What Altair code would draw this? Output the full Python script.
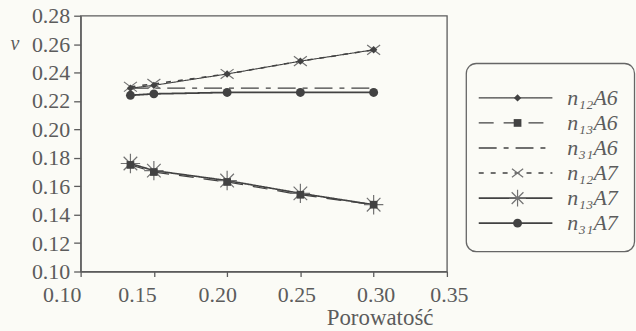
import altair as alt
import pandas as pd

# ---- data ----
porosity = [0.134, 0.15, 0.20, 0.25, 0.30]
series = ["n12A6", "n13A6", "n31A6", "n12A7", "n13A7", "n31A7"]
labels = ["n₁₂A6", "n₁₃A6", "n₃₁A6", "n₁₂A7", "n₁₃A7", "n₃₁A7"]
n12A6 = [0.229, 0.231, 0.239, 0.248, 0.256]
n13A6 = [0.175, 0.170, 0.163, 0.154, 0.147]
n31A6 = [0.229, 0.229, 0.229, 0.229, 0.229]
n12A7 = [0.230, 0.232, 0.239, 0.248, 0.256]
n13A7 = [0.176, 0.171, 0.164, 0.155, 0.147]
n31A7 = [0.224, 0.225, 0.226, 0.226, 0.226]
values = [n12A6, n13A6, n31A6, n12A7, n13A7, n31A7]

x_ticks = [0.10, 0.15, 0.20, 0.25, 0.30, 0.35]
y_ticks = [0.10, 0.12, 0.14, 0.16, 0.18, 0.20, 0.22, 0.24, 0.26, 0.28]

rows = []
for s, lab, vals in zip(series, labels, values):
    for x, y in zip(porosity, vals):
        rows.append({"series": s, "label": lab, "x": x, "y": y})
df = pd.DataFrame(rows)
leg_df = pd.DataFrame({"series": series, "label": labels})

# ---- styles ----
INK = "#424242"
AX = "#5c5c5c"
MARK2 = "#727272"
FONT = "Liberation Serif"
dashes = [[1, 0], [15, 10], [18, 7, 5, 7], [5, 7], [1, 0], [1, 0]]
widths = [1.1, 1.8, 2.0, 1.6, 2.4, 2.4]
asterisk = "M-1,0L1,0M0,-1L0,1M-0.7,-0.7L0.7,0.7M-0.7,0.7L0.7,-0.7"
xmark = "M-1,-0.75L1,0.75M-1,0.75L1,-0.75"
# series -> (shape, size, filled, colour); n31A6 has no marker
marker_style = {
    "n13A7": (asterisk, 380, False, MARK2),
    "n12A7": (xmark, 170, False, MARK2),
    "n12A6": ("diamond", 55, True, INK),
    "n13A6": ("square", 60, True, INK),
    "n31A7": ("circle", 80, True, INK),
}

dash_scale = alt.Scale(domain=series, range=dashes)
width_scale = alt.Scale(domain=series, range=widths)

common_axis = dict(labelFont=FONT, labelFontSize=22, labelColor=AX, labelOverlap=False,
                   labelFlush=False, grid=False, domainColor=AX, tickColor=AX,
                   domainWidth=1.3, tickWidth=1.3)

x_label_offset = {
    "condition": [
        {"test": "datum.value < 0.125", "value": -19},
        {"test": "datum.value < 0.175", "value": -17},
        {"test": "datum.value < 0.225", "value": -10},
        {"test": "datum.value < 0.275", "value": -4},
    ],
    "value": 2,
}

xenc = alt.X("x:Q", scale=alt.Scale(domain=[0.10, 0.35], nice=False),
             axis=alt.Axis(values=x_ticks, format=".2f", title="Porowatość",
                           titleAnchor="end", titleAlign="right", titleBaseline="alphabetic",
                           titleX=354, titleY=53,
                           titleFontWeight="normal", titleFont=FONT, titleFontSize=23,
                           titleColor=AX, tickSize=5, labelPadding=8,
                           labelOffset=x_label_offset, **common_axis))
yenc = alt.Y("y:Q", scale=alt.Scale(domain=[0.10, 0.28], nice=False),
             axis=alt.Axis(values=y_ticks, format=".2f", title="ν", titleAngle=0,
                           titleX=-71, titleY=28, titleBaseline="middle", titleAlign="left",
                           titleFont=FONT, titleFontStyle="italic", titleFontWeight="normal",
                           titleFontSize=20, titleColor=AX, tickSize=7, labelPadding=4,
                           **common_axis))

base = alt.Chart(df).encode(x=xenc, y=yenc)
layers = [base.mark_line(color=INK).encode(
    detail="series:N",
    strokeDash=alt.StrokeDash("series:N", scale=dash_scale, legend=None),
    strokeWidth=alt.StrokeWidth("series:N", scale=width_scale, legend=None),
)]
for s, (shp, sz, fil, col) in marker_style.items():
    layers.append(
        base.transform_filter(alt.datum.series == s).mark_point(
            shape=shp, size=sz, filled=fil, color=col, opacity=1,
            strokeWidth=1.2 if not fil else 0)
    )
main = alt.layer(*layers).properties(width=368, height=257)

# ---- custom legend panel ----
ly = alt.Y("series:N", sort=series, axis=None, scale=alt.Scale(type="point", range=[70, 221]))
lbase = alt.Chart(leg_df)
box = alt.Chart(pd.DataFrame({"k": [0]})).mark_rect(
    fill="transparent", stroke="#666666", strokeWidth=1.3, cornerRadius=10
).encode(x=alt.value(0.5), x2=alt.value(169.5), y=alt.value(48), y2=alt.value(237))
llayers = [box, lbase.mark_rule(color=INK).encode(
    x=alt.value(13), x2=alt.value(87), y=ly,
    strokeDash=alt.StrokeDash("series:N", scale=dash_scale, legend=None),
    strokeWidth=alt.StrokeWidth("series:N", scale=width_scale, legend=None),
)]
for s, (shp, sz, fil, col) in marker_style.items():
    llayers.append(
        lbase.transform_filter(alt.datum.series == s).mark_point(
            shape=shp, size=sz * (0.75 if not fil else 1), filled=fil, color=col, opacity=1,
            strokeWidth=1.2 if not fil else 0).encode(x=alt.value(52), y=ly)
    )
llayers.append(lbase.mark_text(align="left", baseline="middle", font=FONT, fontStyle="italic",
                               fontSize=22, color=AX).encode(
    x=alt.value(102), y=ly, text="label:N"))
legend = alt.layer(*llayers).properties(
    width=170, height=257, view=alt.ViewBackground(stroke=None))

chart = alt.hconcat(main, legend, spacing=19, bounds="flush").properties(
    padding={"left": 9, "top": 3, "right": 0, "bottom": 0},
    background="#fbfbf6",
).configure_view(stroke=AX, strokeWidth=1.3).configure_concat(spacing=19)

chart.save("out.html", embed_options={"renderer": "svg", "actions": False})
